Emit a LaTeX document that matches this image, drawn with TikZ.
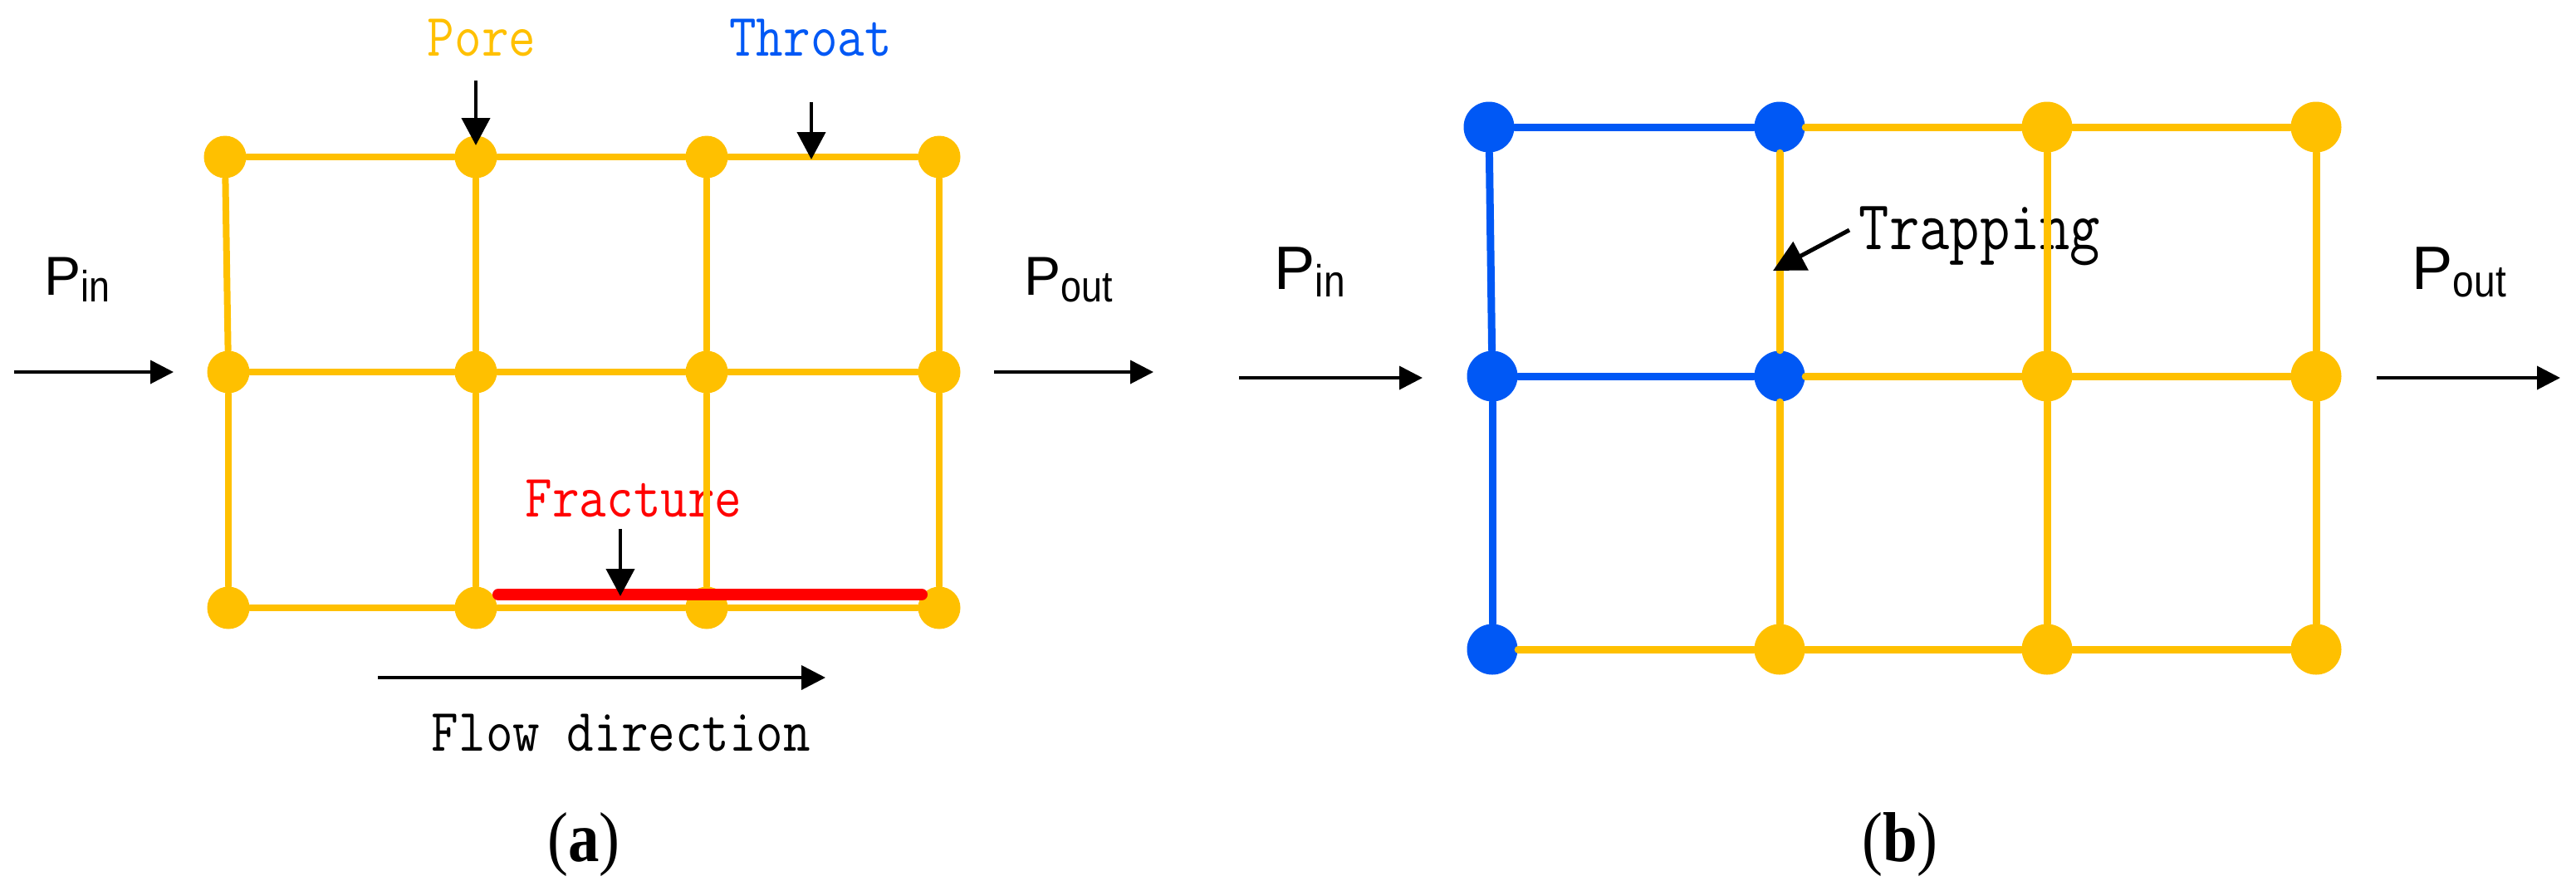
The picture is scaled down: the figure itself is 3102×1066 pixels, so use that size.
\documentclass[tikz,border=0pt]{standalone}
\usepackage{fontspec}
\usetikzlibrary{arrows.meta,calc}
\newfontfamily\arialf{Liberation Sans}
\newfontfamily\timesf{Liberation Serif}
\definecolor{poreY}{RGB}{255,192,0}
\definecolor{thrB}{RGB}{0,88,245}
\definecolor{fracR}{RGB}{255,0,0}
\begin{document}
\begin{tikzpicture}[x=0.1mm,y=-0.1mm,
  ya/.style={circle,fill=poreY,inner sep=0,minimum size=5.1mm},
  yb/.style={circle,fill=poreY,inner sep=0,minimum size=6.1mm},
  bb/.style={circle,fill=thrB,inner sep=0,minimum size=6.1mm},
  yla/.style={draw=poreY,line width=0.8mm,line cap=round},
  ylb/.style={draw=poreY,line width=0.9mm,line cap=round},
  blb/.style={draw=thrB,line width=0.9mm,line cap=round},
  mono/.style={font=\ttfamily\fontsize{18}{21}\selectfont,anchor=base,inner sep=0},
  monob/.style={font=\ttfamily\fontsize{20.06}{23}\selectfont,anchor=base,inner sep=0},
  plabel/.style={font=\arialf,anchor=base west,inner sep=0},
  sublabel/.style={font=\timesf\fontsize{24.2}{28}\selectfont,anchor=base,inner sep=0},
  sidearr/.style={draw=black,line width=0.38mm,-{Triangle[length=2.8mm,width=2.8mm]}},
  callarr/.style={draw=black,line width=0.42mm,-{Triangle[length=3.3mm,width=3.4mm]}},
  traparr/.style={draw=black,line width=0.5mm,-{Triangle[length=3.8mm,width=3.8mm]}}
]
\useasboundingbox (0,0) rectangle (3102,1066);

% ---------- (a) pores ----------
\node[ya] (a11) at (271,189) {};
\node[ya] (a12) at (573,189) {};
\node[ya] (a13) at (851,189) {};
\node[ya] (a14) at (1131,189) {};
\node[ya] (a21) at (275,448) {};
\node[ya] (a22) at (573,448) {};
\node[ya] (a23) at (851,448) {};
\node[ya] (a24) at (1131,448) {};
\node[ya] (a31) at (275,732) {};
\node[ya] (a32) at (573,732) {};
\node[ya] (a33) at (851,732) {};
\node[ya] (a34) at (1131,732) {};

% ---------- (b) pores ----------
\node[bb] (b11) at (1793,153) {};
\node[bb] (b12) at (2143,153) {};
\node[yb] (b13) at (2465,153) {};
\node[yb] (b14) at (2789,153) {};
\node[bb] (b21) at (1797,453) {};
\node[bb] (b22) at (2143,453) {};
\node[yb] (b23) at (2465,453) {};
\node[yb] (b24) at (2789,453) {};
\node[bb] (b31) at (1797,782) {};
\node[yb] (b32) at (2143,782) {};
\node[yb] (b33) at (2465,782) {};
\node[yb] (b34) at (2789,782) {};

% ---------- texts ----------
\node[mono,text=poreY] (pore) at (580,67) {\scalebox{1}[1.15]{Pore}};
\node[mono,text=thrB] (throat) at (976,67) {\scalebox{1}[1.15]{Throat}};
\node[mono,text=fracR] (fract) at (763,622) {\scalebox{1}[1.15]{Fracture}};
\node[mono] (flow) at (748,904) {\scalebox{1}[1.15]{Flow direction}};
\node[monob] (trap) at (2384,300) {\scalebox{1}[1.2]{Trapping}};

\node[plabel] (pina) at (53,355) {{\fontsize{18.8}{22}\selectfont P}\raisebox{-0.8mm}{\fontsize{15}{17}\selectfont\scalebox{0.85}[1]{in}}};
\node[plabel] (pouta) at (1233,355) {{\fontsize{18.8}{22}\selectfont P}\raisebox{-0.8mm}{\fontsize{15}{17}\selectfont\scalebox{0.85}[1]{out}}};
\node[plabel] (pinb) at (1534,348) {{\fontsize{21}{24}\selectfont P}\raisebox{-0.9mm}{\fontsize{15.4}{17}\selectfont\scalebox{0.85}[1]{in}}};
\node[plabel] (poutb) at (2904,348) {{\fontsize{21}{24}\selectfont P}\raisebox{-0.9mm}{\fontsize{15.4}{17}\selectfont\scalebox{0.85}[1]{out}}};

\node[sublabel] (laba) at (703,1037) {\scalebox{0.88}[1]{(\textbf{a})}};
\node[sublabel] (labb) at (2288,1037) {\scalebox{0.88}[1]{(\textbf{b})}};

% ---------- (a) throats ----------
\draw[yla] (a11) -- (a12);
\draw[yla] (a12) -- (a13);
\draw[yla] (a13) -- (a14);
\draw[yla] (a21) -- (a22);
\draw[yla] (a22) -- (a23);
\draw[yla] (a23) -- (a24);
\draw[yla] (a31) -- (a32);
\draw[yla] (a32) -- (a33);
\draw[yla] (a33) -- (a34);
\draw[yla] (a11) -- (a21);
\draw[yla] (a21) -- (a31);
\draw[yla] (a12) -- (a22);
\draw[yla] (a22) -- (a32);
\draw[yla] (a13) -- (a23);
\draw[yla] (a23) -- (a33);
\draw[yla] (a14) -- (a24);
\draw[yla] (a24) -- (a34);

% fracture
\coordinate (f1) at ($(a32)+(27,-16)$);
\coordinate (f2) at ($(a34)+(-21,-16)$);
\draw[draw=fracR,line width=1.4mm,line cap=round] (f1) -- (f2);

% ---------- (b) throats ----------
\draw[blb] (b11) -- (b12);
\draw[blb] (b21) -- (b22);
\draw[blb] (b11) -- (b21);
\draw[blb] (b21) -- (b31);
\draw[ylb] (b12) -- (b13);
\draw[ylb] (b13) -- (b14);
\draw[ylb] (b22) -- (b23);
\draw[ylb] (b23) -- (b24);
\draw[ylb] (b31) -- (b32);
\draw[ylb] (b32) -- (b33);
\draw[ylb] (b33) -- (b34);
\draw[ylb] (b12) -- (b22);
\draw[ylb] (b22) -- (b32);
\draw[ylb] (b13) -- (b23);
\draw[ylb] (b23) -- (b33);
\draw[ylb] (b14) -- (b24);
\draw[ylb] (b24) -- (b34);

% ---------- arrows ----------
\coordinate (pa0) at (573,97);
\coordinate (pa1) at (573,175);
\draw[callarr] (pa0) -- (pa1);
\coordinate (ta0) at (977,123);
\coordinate (ta1) at (977,192);
\draw[callarr] (ta0) -- (ta1);
\coordinate (fa0) at (747,637);
\coordinate (fa1) at (747,718);
\draw[callarr] (fa0) -- (fa1);
\coordinate (fl0) at (455,816);
\coordinate (fl1) at (994,816);
\draw[sidearr,-{Triangle[length=2.9mm,width=2.9mm]}] (fl0) -- (fl1);
\coordinate (tr0) at (2227,277);
\coordinate (tr1) at (2135,326);
\draw[traparr] (tr0) -- (tr1);

\coordinate (ia0) at (17,448);
\coordinate (ia1) at (209,448);
\draw[sidearr] (ia0) -- (ia1);
\coordinate (oa0) at (1197,448);
\coordinate (oa1) at (1389,448);
\draw[sidearr] (oa0) -- (oa1);
\coordinate (ib0) at (1492,455);
\coordinate (ib1) at (1713,455);
\draw[sidearr] (ib0) -- (ib1);
\coordinate (ob0) at (2862,455);
\coordinate (ob1) at (3083,455);
\draw[sidearr] (ob0) -- (ob1);
\end{tikzpicture}
\end{document}
